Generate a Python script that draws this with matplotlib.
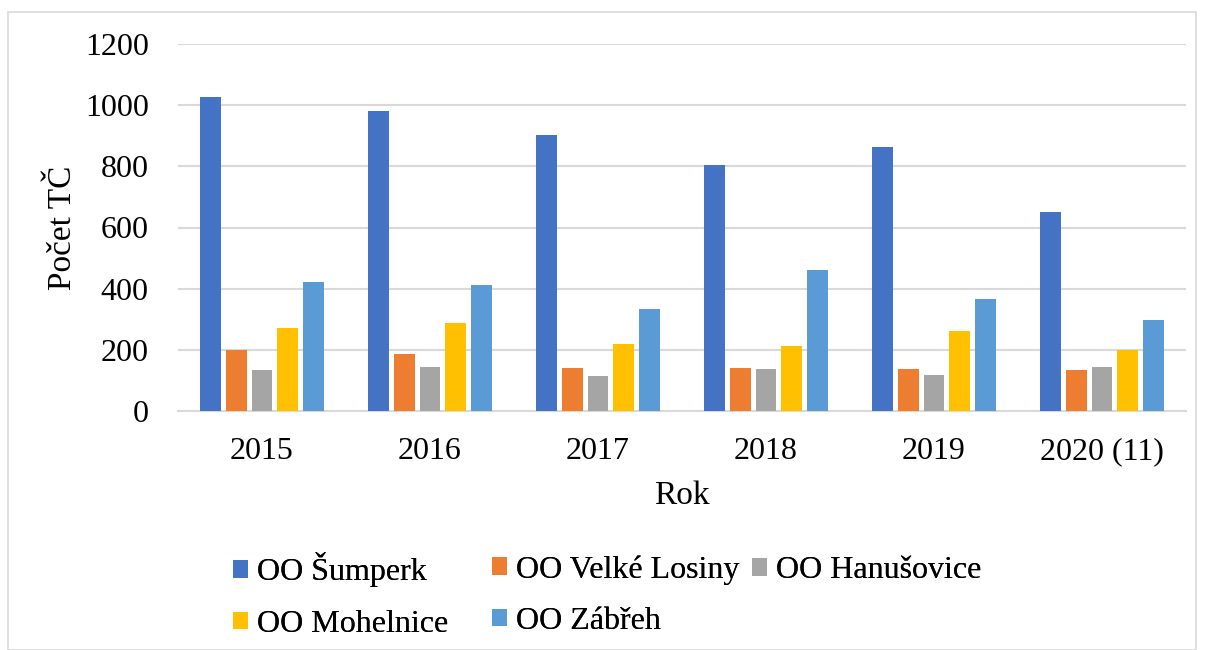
import matplotlib.pyplot as plt
import numpy as np
from matplotlib.patches import Rectangle

# dados
roky = ['2015', '2016', '2017', '2018', '2019', '2020 (11)']
sumperk = [1027, 980, 903, 804, 864, 652]
velke_losiny = [201, 188, 140, 142, 137, 133]
hanusovice = [135, 144, 113, 137, 118, 144]
mohelnice = [270, 288, 220, 214, 260, 201]
zabreh = [423, 412, 334, 461, 365, 299]

serie = [
    ('OO Šumperk', sumperk, '#4472C4'),
    ('OO Velké Losiny', velke_losiny, '#ED7D31'),
    ('OO Hanušovice', hanusovice, '#A5A5A5'),
    ('OO Mohelnice', mohelnice, '#FFC000'),
    ('OO Zábřeh', zabreh, '#5B9BD5'),
]

plt.rcParams['font.family'] = ['Liberation Serif', 'DejaVu Serif']
fs = 23

fig = plt.figure(figsize=(12.05, 6.5), dpi=100)
ax = fig.add_axes([178 / 1205, 1 - 411 / 650, (1186 - 178) / 1205, (411 - 44) / 650])

x = np.arange(len(roky))
step = 0.153
width = 0.123
bars = []
for i, (nazev, hodnoty, barva) in enumerate(serie):
    b = ax.bar(x + (i - 2) * step, hodnoty, width, color=barva, label=nazev, zorder=3)
    bars.append(b)

ax.set_xlim(-0.5, len(roky) - 0.5)
ax.set_ylim(0, 1200)
ax.set_yticks(range(0, 1201, 200))
ax.set_xticks(x)
ax.set_xticklabels(roky)
ax.yaxis.grid(True, color='#d9d9d9', linewidth=1.5, zorder=0)
for s in ['top', 'right', 'left']:
    ax.spines[s].set_visible(False)
ax.spines['bottom'].set_color('#d9d9d9')
ax.spines['bottom'].set_linewidth(1.5)
ax.tick_params(axis='both', length=0, labelsize=fs)
ax.tick_params(axis='y', pad=21)
ax.tick_params(axis='x', pad=19)
ax.set_ylabel('Počet TČ', fontsize=24, labelpad=5)
ax.set_xlabel('Rok', fontsize=24, labelpad=10)

# legenda - tri sloupce jako v Excelu
sloupce = [([0, 3], 233, 595.5), ([1, 4], 492, 595.5), ([2], 752, 571)]
leg_kw = dict(frameon=False, fontsize=fs, handlelength=0.47, handleheight=0.47,
              handletextpad=0.27, labelspacing=0.7, borderpad=0, borderaxespad=0,
              loc='center left')
for idx, lx, ly in sloupce:
    leg = fig.legend([bars[k] for k in idx], [serie[k][0] for k in idx],
                     bbox_to_anchor=(lx / 1205, 1 - ly / 650), **leg_kw)
    fig.add_artist(leg)

# ramecek
fig.patches.append(Rectangle((8 / 1205, 0), 1188 / 1205, 1 - 12 / 650,
                             transform=fig.transFigure, fill=False,
                             edgecolor='#d9d9d9', linewidth=1.2))

plt.savefig('out.png', dpi=100)
